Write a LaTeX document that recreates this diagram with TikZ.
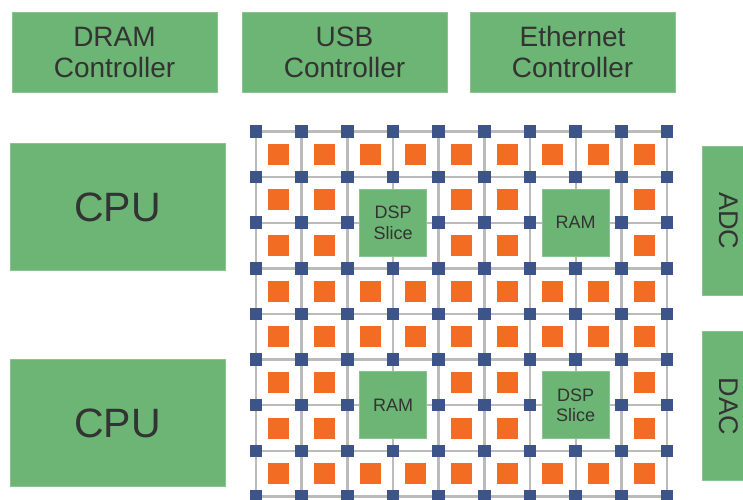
\documentclass[tikz,border=0pt]{standalone}
\usepackage{fontspec}
\setmainfont{Liberation Sans}
\definecolor{blockgreen}{HTML}{6CB574}
\definecolor{tileorange}{HTML}{F26C23}
\definecolor{nodeblue}{HTML}{3C5488}
\definecolor{wiregray}{HTML}{BBBBBB}
\definecolor{labeltext}{HTML}{333333}
\tikzset{
  block/.style={rectangle, fill=blockgreen, draw=blockgreen!80!white, line width=0.6pt,
    text=labeltext, align=center, inner sep=0pt},
  ctrlbox/.style={block, minimum width=205pt, minimum height=80pt,
    font=\fontsize{28}{31}\selectfont},
  cpubox/.style={block, minimum width=215pt, minimum height=127pt,
    font=\fontsize{41}{46}\selectfont},
  sidebox/.style={block, minimum width=149pt, minimum height=54pt, rotate=-90,
    font=\fontsize{27}{31}\selectfont},
  fabricbox/.style={block, minimum width=67pt, minimum height=67pt,
    font=\fontsize{18}{20.5}\selectfont},
  wire/.style={draw=wiregray, line width=2.4pt},
  switchsq/.style={rectangle, fill=nodeblue, minimum width=12.5pt, minimum height=12.5pt, inner sep=0pt},
  logicsq/.style={rectangle, fill=tileorange, minimum width=21pt, minimum height=21pt, inner sep=0pt}
}
\begin{document}
\begin{tikzpicture}[x=1pt,y=-1pt]
\useasboundingbox (0,0) rectangle (743,499);
\clip (0,0) rectangle (743,499);

% top controllers
\node[ctrlbox] (dram) at (114.5,52) {DRAM\\Controller};
\node[ctrlbox] (usb) at (344.5,52) {USB\\Controller};
\node[ctrlbox] (eth) at (572.5,52) {Ethernet\\Controller};

% CPUs
\node[cpubox] (cpu1) at (117.5,207) {CPU};
\node[cpubox] (cpu2) at (117.5,423) {CPU};

% ADC / DAC
\node[sidebox] (adc) at (729,220.5) {ADC};
\node[sidebox] (dac) at (729,406) {DAC};

% grid coordinates
\foreach \i in {0,...,9}
  \foreach \j in {0,...,8}
    \coordinate (c\i-\j) at ({256+45.67*\i},{131.5+45.62*\j});

% wires
\foreach \i in {0,...,9}
  \draw[wire] (c\i-0) -- (c\i-8) -- ++(0,10);
\foreach \j in {0,...,8}
  \draw[wire] (c0-\j) -- (c9-\j);

% logic tiles
\foreach \i in {0,...,8}
  \foreach \j in {0,...,7}{
    \pgfmathtruncatemacro\hidecell{(mod(\i,4)>1) && (mod(\j,4)>0) && (mod(\j,4)<3)}
    \ifnum\hidecell=0
      \node[logicsq] (t\i-\j) at ({256+45.67*(\i+0.5)},{131.5+45.62*(\j+0.5)}) {};
    \fi
  }

% switch nodes
\foreach \i in {0,...,9}
  \foreach \j in {0,...,8}{
    \pgfmathtruncatemacro\hidesw{(mod(\i,4)==3) && (mod(\j,4)==2)}
    \ifnum\hidesw=0
      \node[switchsq] (s\i-\j) at (c\i-\j) {};
    \fi
  }

% hard blocks in the fabric
\node[fabricbox] (dsp1) at (c3-2) {DSP\\Slice};
\node[fabricbox] (ram1) at (c7-2) {RAM};
\node[fabricbox] (ram2) at (c3-6) {RAM};
\node[fabricbox] (dsp2) at (c7-6) {DSP\\Slice};
\end{tikzpicture}
\end{document}
